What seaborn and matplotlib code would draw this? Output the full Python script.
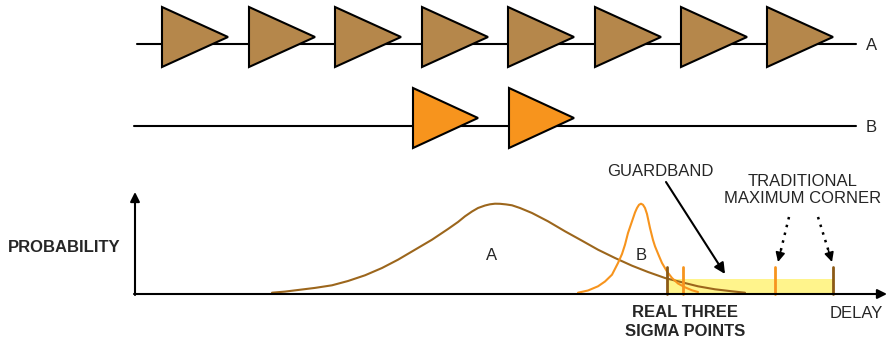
import seaborn as sns
import pandas as pd
import matplotlib.pyplot as plt
from matplotlib.patches import Polygon, Rectangle

# buffer chains (left edge of each buffer, px)
chain_a_buffers = [162, 249, 335, 422, 508, 595, 681, 767]
chain_b_buffers = [413, 509]

# delay distributions (delay px, height px)
dist_a_delay = [272, 285, 298, 315, 332, 348, 365, 382, 398, 415, 432, 448, 458, 465, 472,
                478, 485, 490, 495, 500, 506, 512, 520, 532, 548, 565, 582, 598, 615,
                632, 648, 665, 682, 698, 715, 732, 745]
dist_a_prob = [292.7, 291.6, 290, 287.9, 285.3, 281, 275.3, 268, 259.7, 249.7, 239.7, 229,
               222, 216.3, 211.5, 208, 205.5, 204.3, 203.7, 203.8, 204.4, 205.3, 208,
               213, 221.3, 231.3, 240.7, 249.7, 258, 265.7, 272, 278, 282.3, 286.3,
               289.3, 291.3, 292.7]
dist_b_delay = [578, 588, 598, 605, 612, 618, 622, 625, 628, 632, 635, 637, 639, 641, 643,
                645, 647, 650, 653, 655, 659, 662, 667, 672, 678, 685, 692, 698]
dist_b_prob = [292.7, 290.5, 286.3, 281.5, 274.7, 263, 254, 244.7, 233, 221.3, 212.5, 208,
               204.8, 203.7, 204.8, 208, 214, 228, 240, 246.3, 256, 263, 271.5, 278,
               283.5, 287.3, 290.3, 292]

# three sigma points and traditional corners
sigma_a, sigma_b = 667, 683
corner_b, corner_a = 775, 833

BROWN_FILL = '#B5874B'
BROWN_LINE = '#9C661C'
BROWN_MARK = '#8C5A16'
ORANGE = '#F7941D'
YELLOW = '#FFF48C'

sns.set_style('white')
plt.rcParams['font.family'] = ['Liberation Sans', 'DejaVu Sans']

fig = plt.figure(figsize=(8.87, 3.49), dpi=100)
ax = fig.add_axes([0, 0, 1, 1])

# top: two buffer chains
ax.plot([137, 856], [44, 44], color='black', lw=1.5, zorder=1)
ax.plot([134, 856], [126, 126], color='black', lw=1.5, zorder=1)
for x0 in chain_a_buffers:
    ax.add_patch(Polygon([[x0, 7], [x0, 67], [x0 + 66, 37]], closed=True,
                         facecolor=BROWN_FILL, edgecolor='black', lw=1.5, zorder=2))
for x0 in chain_b_buffers:
    ax.add_patch(Polygon([[x0, 88], [x0, 148], [x0 + 65, 118]], closed=True,
                         facecolor=ORANGE, edgecolor='black', lw=1.5, zorder=2))
ax.text(866, 45, 'A', fontsize=12, va='center', ha='left')
ax.text(866, 127, 'B', fontsize=12, va='center', ha='left')

# bottom: delay distributions
ax.add_patch(Rectangle((sigma_a, 279), corner_a - sigma_a, 15, facecolor=YELLOW,
                       edgecolor='none', zorder=1))

df_a = pd.DataFrame({'delay': dist_a_delay, 'prob': dist_a_prob})
df_b = pd.DataFrame({'delay': dist_b_delay, 'prob': dist_b_prob})
sns.lineplot(data=df_a, x='delay', y='prob', color=BROWN_LINE, lw=1.5, ax=ax, zorder=3)
sns.lineplot(data=df_b, x='delay', y='prob', color=ORANGE, lw=1.5, ax=ax, zorder=3)

for x, c in [(sigma_a, BROWN_MARK), (sigma_b, ORANGE), (corner_b, ORANGE), (corner_a, BROWN_MARK)]:
    ax.plot([x, x], [267, 294], color=c, lw=2, zorder=4)

# axes with arrows
ax.annotate('', xy=(135, 192), xytext=(135, 295),
            arrowprops=dict(arrowstyle='-|>', color='black', lw=1.5, mutation_scale=14,
                            shrinkA=0, shrinkB=0), zorder=5)
ax.annotate('', xy=(887, 294), xytext=(134, 294),
            arrowprops=dict(arrowstyle='-|>', color='black', lw=1.5, mutation_scale=14,
                            shrinkA=0, shrinkB=0), zorder=5)

ax.text(8, 247, 'PROBABILITY', fontsize=12, fontweight='bold', va='center', ha='left')
ax.text(492, 255, 'A', fontsize=12, va='center', ha='center')
ax.text(641, 255, 'B', fontsize=12, va='center', ha='center')
ax.text(856, 313, 'DELAY', fontsize=12, va='center', ha='center')
ax.text(685, 322, 'REAL THREE\nSIGMA POINTS', fontsize=12, fontweight='bold',
        va='center', ha='center', linespacing=1.3)
ax.text(660, 172, 'GUARDBAND', fontsize=12, va='center', ha='center')
ax.text(803, 190, 'TRADITIONAL\nMAXIMUM CORNER', fontsize=12, va='center', ha='center',
        linespacing=1.2)

# guardband arrow
ax.annotate('', xy=(725, 274), xytext=(666, 182),
            arrowprops=dict(arrowstyle='-|>', color='black', lw=1.5, mutation_scale=16,
                            shrinkA=0, shrinkB=0), zorder=5)

# dotted arrows to traditional corners
for (x0, y0), (x1, y1) in [((789, 217), (778, 262)), ((818, 217), (832, 262))]:
    ax.plot([x0, x1 - (x1 - x0) * 0.2], [y0, y1 - (y1 - y0) * 0.2], color='black',
            lw=1.8, ls=(0, (1, 2.2)), zorder=5)
    ax.annotate('', xy=(x1, y1), xytext=(x1 - (x1 - x0) * 0.25, y1 - (y1 - y0) * 0.25),
                arrowprops=dict(arrowstyle='-|>', color='black', lw=1.2, mutation_scale=14,
                                shrinkA=0, shrinkB=0), zorder=5)

ax.set_xlim(0, 887)
ax.set_ylim(349, 0)
ax.axis('off')

plt.savefig('out.png', dpi=100)
